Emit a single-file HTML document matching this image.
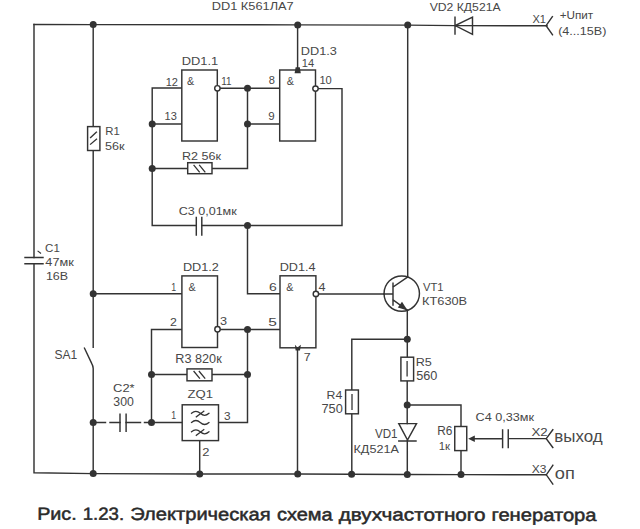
<!DOCTYPE html>
<html><head><meta charset="utf-8">
<style>
html,body{margin:0;padding:0;background:#fff;}
body{width:640px;height:529px;overflow:hidden;}
svg{display:block;}
.w{stroke:#333;stroke-width:1.45;fill:none;stroke-linecap:square;stroke-linejoin:miter;}
.b{stroke:#333;stroke-width:1.45;fill:#fff;}
.d{fill:#333;}
text{font-family:"Liberation Sans",sans-serif;fill:#474747;stroke:none;}
.cap{font-size:17.6px;fill:#2a2a2a;stroke:#2a2a2a;stroke-width:0.5px;}
</style></head><body>
<svg width="640" height="529" viewBox="0 0 640 529">
<path class="w" d="M34 24.5L93.2 24.6L297.8 24.9L407.7 25.1L455 25.6L547 25.8"/>
<path class="w" d="M34 24.5V257.5M34 263.7V472.7L93.2 473.6L199.7 474L297.7 474L351.5 474.3L407.3 474.4L461 474.6L546.3 474.8"/>
<path class="w" d="M25 257.5H43M25 263.7H43"/>
<path class="w" d="M38 251.2L40.6 253.2" style="stroke-width:1.1"/>
<path class="w" d="M93.2 24.6V126.6M93.2 150.5V347.3M84.5 348.2L91.8 363.6Q93.2 366.2 93.2 368.5V473.6"/>
<rect class="b" x="87.6" y="126.6" width="12.3" height="23.9"/>
<path class="w" d="M90.6 137.6L96.5 132.1M90.6 144.2L96.5 139.1" style="stroke-width:1.3"/>
<path class="w" d="M93.2 293.7H182"/>
<path class="w" d="M93.2 422.5H105.5M110 422.5H120M126.1 422.5H140.5M144.5 422.5H152"/>
<path class="w" d="M120 414.3V431.3M126.1 414.3V431.3"/>
<path class="w" d="M182 88H152.2V225.5H196.3M201.8 225.5H342V88.6H318.6M152.2 124H182M152.2 168.5H187.7M212 168.5H247.5V88.3M220.2 88.3H280M247.5 124H280"/>
<path class="w" d="M196.3 217.5V235M201.8 217.5V235"/>
<rect class="b" x="187.7" y="162.7" width="24.3" height="11"/>
<path class="w" d="M194 165.3L199.3 171.8M199.6 165.3L204.9 171.8" style="stroke-width:1.3"/>
<rect class="b" x="181.8" y="70" width="35.5" height="71"/>
<rect class="b" x="279.7" y="70" width="35.8" height="71"/>
<path class="w" d="M297.6 24.9V70"/>
<path class="w" d="M247.5 225.5V293.7H280M220.3 329.4H280M182 329.4H151.5V422.5H182.2M151.5 374.4H187M212 374.4H247.5M247.5 329.4V422.5H218.5M199.7 440.6V474M297.5 348V474M318.7 293.9H384"/>
<rect class="b" x="181.9" y="275.9" width="35.6" height="71.6"/>
<rect class="b" x="280" y="275.8" width="35.9" height="72"/>
<rect class="b" x="187" y="368.9" width="25" height="11.9"/>
<path class="w" d="M194 371.5L199.5 378.2M199.3 371.5L204.8 378.2" style="stroke-width:1.3"/>
<rect class="b" x="182.2" y="404.8" width="36.3" height="35.8"/>
<path class="w" d="M191.5 413.3q4.4-4 8.75 0t8.75 0M191.5 422.5q4.4-4 8.75 0t8.75 0M191.5 431.8q4.4-4 8.75 0t8.75 0M196.3 416.8L203.8 411.2M196.3 435.3L203.8 429.7" style="stroke-width:1.2"/>
<circle class="b" cx="217.4" cy="88.3" r="2.7"/>
<circle class="b" cx="315.5" cy="88.6" r="2.7"/>
<circle class="b" cx="217.5" cy="329.3" r="2.7"/>
<circle class="b" cx="315.9" cy="293.9" r="2.7"/>
<path class="w" d="M407.7 25.1V277M407.3 310.2V357.2M407.2 380.9V423.6M407.3 339.3H351.8V390M351.8 413.8V474.3M407.2 405H461V426.5M461 450.6V474.6M407.3 441V474.4"/>
<circle class="w" cx="401.75" cy="293.6" r="17.7"/>
<path class="w" d="M393 283.2V305M384 293.9H393M393 287L407.5 277.2M393 299.8L407.3 310.2"/>
<path class="d" d="M407.6 310.4L397.8 307.4L402 301.8Z"/>
<rect class="b" x="400.9" y="357.2" width="12.7" height="23.7"/>
<path class="w" d="M407.1 361.6V375.8" style="stroke-width:1.3"/>
<rect class="b" x="345.6" y="390" width="12.8" height="23.8"/>
<path class="w" d="M352 394.6V409.4" style="stroke-width:1.3"/>
<path class="w" d="M398.8 423.6H416.5L407.5 440ZM398.8 441H416"/>
<rect class="b" x="454.75" y="426.5" width="12" height="24.1"/>
<path class="w" d="M473 438.7H502.6M508.25 438.6H546.25M502.6 430V447.5M508.25 430V447.5"/>
<path class="d" d="M468.2 438.75L474.8 435.4V442.1Z"/>
<path class="w" d="M455 17.2V34M472.5 17.2L455.2 25.6L472.5 34.4Z"/>
<path class="w" d="M546.1 25.6L552.4 16.7M546.1 25.6L552.4 34.7M546.25 438.6L552.8 429.7M546.25 438.6L552.8 447.5M546.3 474.8L552.8 465.3M546.3 474.8L552.8 484.1"/>
<path class="d" d="M294.6 73.3H300.8L299.8 67.3H295.6Z"/>
<path class="d" d="M294.9 344.8L297.4 347.6L300.9 344.8L300 350.6H295.6Z"/>
<g class="d"><circle cx="93.2" cy="24.6" r="3.5"/><circle cx="297.7" cy="24.9" r="3.5"/><circle cx="407.7" cy="25.1" r="3.5"/><circle cx="152.2" cy="124" r="3.5"/><circle cx="152.2" cy="168.5" r="3.5"/><circle cx="247.5" cy="88.3" r="3.5"/><circle cx="247.5" cy="124" r="3.5"/><circle cx="247.5" cy="225.5" r="3.5"/><circle cx="93.2" cy="293.7" r="3.5"/><circle cx="247.5" cy="329.6" r="3.5"/><circle cx="151.5" cy="374.4" r="3.5"/><circle cx="247.5" cy="374.4" r="3.5"/><circle cx="151.5" cy="422.5" r="3.5"/><circle cx="93.2" cy="422.5" r="3.5"/><circle cx="93.2" cy="473.6" r="3.5"/><circle cx="199.7" cy="474" r="3.5"/><circle cx="297.7" cy="474" r="3.5"/><circle cx="351.6" cy="474.3" r="3.5"/><circle cx="407.3" cy="474.4" r="3.5"/><circle cx="461" cy="474.6" r="3.5"/><circle cx="407.3" cy="339.3" r="3.5"/><circle cx="407.2" cy="405" r="3.5"/></g>
<text x="211.7" y="9.65" style="font-size:11.6px" textLength="82.01" lengthAdjust="spacingAndGlyphs">DD1 К561ЛА7</text>
<text x="429.7" y="10.55" style="font-size:11.6px" textLength="70.87" lengthAdjust="spacingAndGlyphs">VD2 КД521А</text>
<text x="532.45" y="23.0" style="font-size:11.6px" textLength="13.54" lengthAdjust="spacingAndGlyphs">X1</text>
<text x="559.7" y="19.15" style="font-size:11.2px" textLength="33.55" lengthAdjust="spacingAndGlyphs">+Uпит</text>
<text x="558.15" y="35.0" style="font-size:11.2px" textLength="48.31" lengthAdjust="spacingAndGlyphs">(4...15В)</text>
<text x="181.7" y="64.8" style="font-size:11.6px" textLength="36.53" lengthAdjust="spacingAndGlyphs">DD1.1</text>
<text x="165.65" y="85.5" style="font-size:10.8px" textLength="12.27" lengthAdjust="spacingAndGlyphs">12</text>
<text x="186.95" y="84.7" style="font-size:10.8px" textLength="7.2" lengthAdjust="spacingAndGlyphs">&amp;</text>
<text x="221.25" y="84.7" style="font-size:10.8px" textLength="10.27" lengthAdjust="spacingAndGlyphs">11</text>
<text x="268.7" y="84.0" style="font-size:10.8px" textLength="6.17" lengthAdjust="spacingAndGlyphs">8</text>
<text x="286.65" y="84.5" style="font-size:10.8px" textLength="7.2" lengthAdjust="spacingAndGlyphs">&amp;</text>
<text x="300.8" y="55.05" style="font-size:11.6px" textLength="36.07" lengthAdjust="spacingAndGlyphs">DD1.3</text>
<text x="301.75" y="66.8" style="font-size:10.8px" textLength="12.37" lengthAdjust="spacingAndGlyphs">14</text>
<text x="319.45" y="83.5" style="font-size:10.8px" textLength="12.37" lengthAdjust="spacingAndGlyphs">10</text>
<text x="164.55" y="120.3" style="font-size:10.8px" textLength="12.27" lengthAdjust="spacingAndGlyphs">13</text>
<text x="268.2" y="120.2" style="font-size:10.8px" textLength="6.42" lengthAdjust="spacingAndGlyphs">9</text>
<text x="105.3" y="135.4" style="font-size:11.6px" textLength="14.53" lengthAdjust="spacingAndGlyphs">R1</text>
<text x="105.0" y="149.75" style="font-size:11.6px" textLength="19.52" lengthAdjust="spacingAndGlyphs">56к</text>
<text x="182.0" y="160.15" style="font-size:11.6px" textLength="38.97" lengthAdjust="spacingAndGlyphs">R2 56к</text>
<text x="178.65" y="214.85" style="font-size:11.6px" textLength="58.11" lengthAdjust="spacingAndGlyphs">C3 0,01мк</text>
<text x="45.1" y="252.0" style="font-size:11.6px" textLength="14.73" lengthAdjust="spacingAndGlyphs">C1</text>
<text x="45.35" y="265.5" style="font-size:11.6px" textLength="28.4" lengthAdjust="spacingAndGlyphs">47мк</text>
<text x="45.9" y="279.5" style="font-size:11.6px" textLength="22.19" lengthAdjust="spacingAndGlyphs">16В</text>
<text x="182.9" y="270.85" style="font-size:11.6px" textLength="36.02" lengthAdjust="spacingAndGlyphs">DD1.2</text>
<text x="171.35" y="291.2" style="font-size:10.8px" textLength="4.92" lengthAdjust="spacingAndGlyphs">1</text>
<text x="188.45" y="290.5" style="font-size:10.8px" textLength="7.2" lengthAdjust="spacingAndGlyphs">&amp;</text>
<text x="170.1" y="326.0" style="font-size:10.8px" textLength="6.87" lengthAdjust="spacingAndGlyphs">2</text>
<text x="220.0" y="325.3" style="font-size:10.8px" textLength="7.07" lengthAdjust="spacingAndGlyphs">3</text>
<text x="279.7" y="270.6" style="font-size:11.6px" textLength="35.97" lengthAdjust="spacingAndGlyphs">DD1.4</text>
<text x="269.05" y="290.8" style="font-size:10.8px" textLength="7.77" lengthAdjust="spacingAndGlyphs">6</text>
<text x="286.25" y="290.8" style="font-size:10.8px" textLength="7.2" lengthAdjust="spacingAndGlyphs">&amp;</text>
<text x="318.45" y="290.8" style="font-size:10.8px" textLength="7.02" lengthAdjust="spacingAndGlyphs">4</text>
<text x="268.35" y="325.5" style="font-size:10.8px" textLength="8.62" lengthAdjust="spacingAndGlyphs">5</text>
<text x="303.85" y="361.4" style="font-size:10.8px" textLength="6.92" lengthAdjust="spacingAndGlyphs">7</text>
<text x="423.0" y="291.2" style="font-size:11.6px" textLength="20.57" lengthAdjust="spacingAndGlyphs">VT1</text>
<text x="422.0" y="305.45" style="font-size:11.6px" textLength="45.17" lengthAdjust="spacingAndGlyphs">КТ630В</text>
<text x="54.4" y="359.2" style="font-size:12.692px" textLength="22.78" lengthAdjust="spacingAndGlyphs">SA1</text>
<text x="175.3" y="362.8" style="font-size:12.146px" textLength="46.41" lengthAdjust="spacingAndGlyphs">R3 820к</text>
<text x="187.5" y="398.25" style="font-size:11.6px" textLength="25.51" lengthAdjust="spacingAndGlyphs">ZQ1</text>
<text x="113.05" y="391.75" style="font-size:11.6px" textLength="21.59" lengthAdjust="spacingAndGlyphs">C2*</text>
<text x="113.3" y="406.3" style="font-size:12.009px" textLength="20.53" lengthAdjust="spacingAndGlyphs">300</text>
<text x="171.15" y="419.4" style="font-size:10.8px" textLength="4.87" lengthAdjust="spacingAndGlyphs">1</text>
<text x="223.9" y="420.0" style="font-size:10.8px" textLength="6.57" lengthAdjust="spacingAndGlyphs">3</text>
<text x="202.35" y="455.6" style="font-size:10.8px" textLength="7.22" lengthAdjust="spacingAndGlyphs">2</text>
<text x="326.5" y="399.0" style="font-size:11.6px" textLength="15.73" lengthAdjust="spacingAndGlyphs">R4</text>
<text x="321.45" y="412.8" style="font-size:12.146px" textLength="21.33" lengthAdjust="spacingAndGlyphs">750</text>
<text x="415.7" y="365.6" style="font-size:11.6px" textLength="16.13" lengthAdjust="spacingAndGlyphs">R5</text>
<text x="416.2" y="380.0" style="font-size:12.76px" textLength="21.18" lengthAdjust="spacingAndGlyphs">560</text>
<text x="375.0" y="438.05" style="font-size:12.615px" textLength="22.58" lengthAdjust="spacingAndGlyphs">VD1</text>
<text x="353.5" y="452.55" style="font-size:11.6px" textLength="45.34" lengthAdjust="spacingAndGlyphs">КД521А</text>
<text x="437.25" y="435.15" style="font-size:11.873px" textLength="15.17" lengthAdjust="spacingAndGlyphs">R6</text>
<text x="438.75" y="449.9" style="font-size:11.6px" textLength="11.33" lengthAdjust="spacingAndGlyphs">1к</text>
<text x="475.55" y="420.95" style="font-size:11.6px" textLength="58.51" lengthAdjust="spacingAndGlyphs">C4 0,33мк</text>
<text x="531.4" y="436.45" style="font-size:11.6px" textLength="16.29" lengthAdjust="spacingAndGlyphs">X2</text>
<text x="554.35" y="442.25" style="font-size:16.0px;stroke-width:0;fill:#4a4a4a" textLength="48.4" lengthAdjust="spacingAndGlyphs">выход</text>
<text x="531.75" y="472.65" style="font-size:11.6px" textLength="14.69" lengthAdjust="spacingAndGlyphs">X3</text>
<text x="554.85" y="478.75" style="font-size:16.0px;stroke-width:0;fill:#4a4a4a" textLength="20.01" lengthAdjust="spacingAndGlyphs">оп</text>
<g transform="rotate(0.14 38 519.7)"><text class="cap" x="37.2" y="519.7" textLength="39.5" lengthAdjust="spacingAndGlyphs">Рис.</text><text class="cap" x="82.75" y="519.7" textLength="41.3" lengthAdjust="spacingAndGlyphs">1.23.</text><text class="cap" x="130.25" y="519.7" textLength="140.4" lengthAdjust="spacingAndGlyphs">Электрическая</text><text class="cap" x="277" y="519.7" textLength="55.6" lengthAdjust="spacingAndGlyphs">схема</text><text class="cap" x="338.8" y="519.7" textLength="146.6" lengthAdjust="spacingAndGlyphs">двухчастотного</text><text class="cap" x="491.5" y="519.7" textLength="105" lengthAdjust="spacingAndGlyphs">генератора</text></g>
</svg>
</body></html>
